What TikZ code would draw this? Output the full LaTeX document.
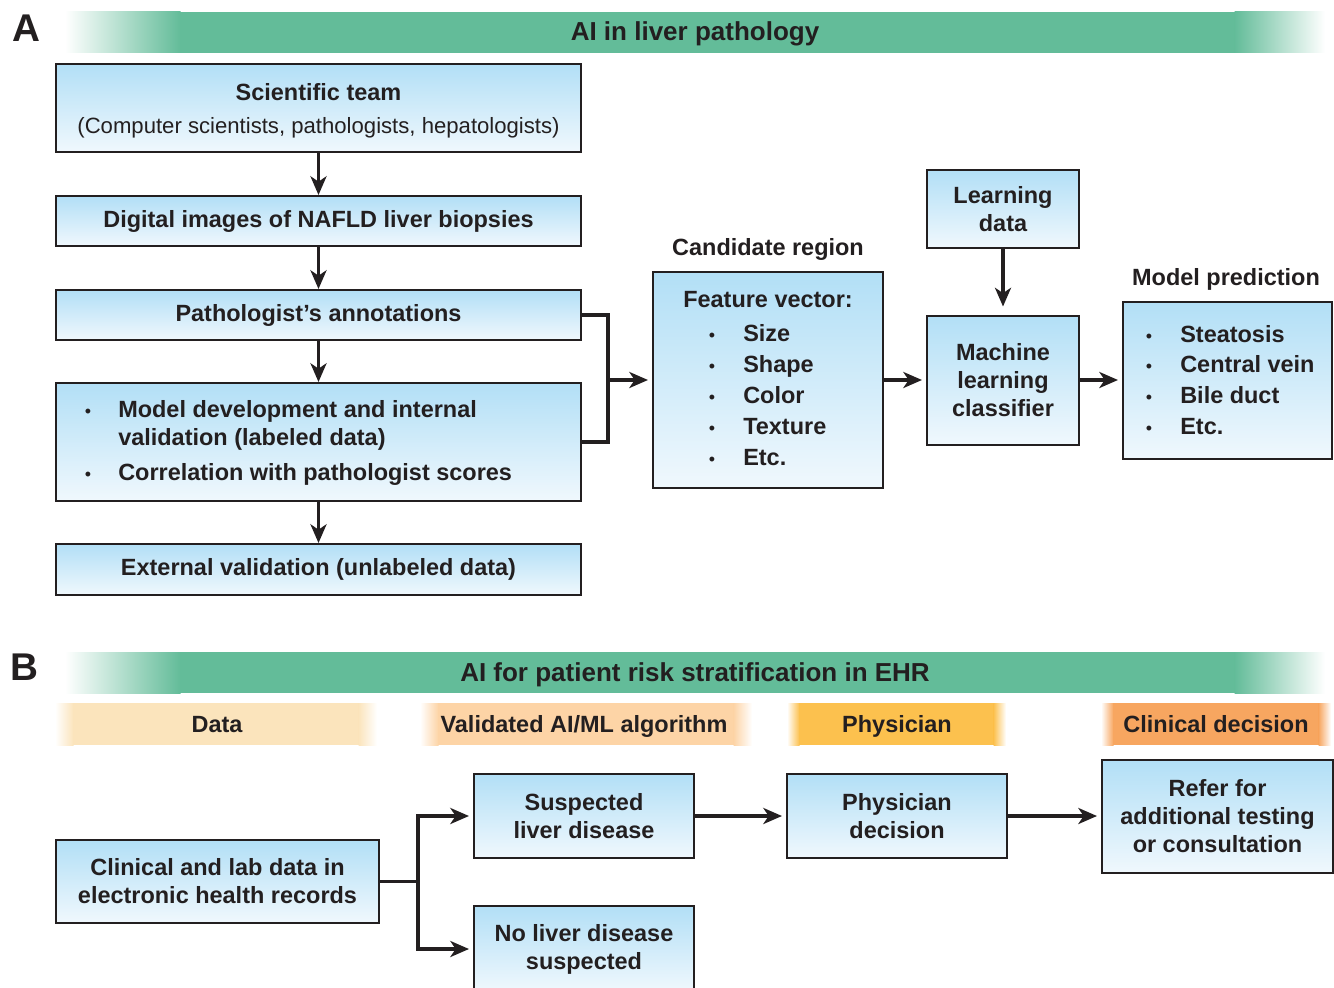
\documentclass[tikz,border=0pt]{standalone}
\usepackage{fontspec}
\setmainfont{Liberation Sans}
\usetikzlibrary{arrows.meta}
\definecolor{ink}{HTML}{231F20}
\definecolor{boxtop}{HTML}{B2DFF6}
\definecolor{boxbot}{HTML}{F0F8FD}
\definecolor{barG}{HTML}{63BC99}
\definecolor{barData}{HTML}{FBE4BC}
\definecolor{barAlg}{HTML}{FDD4A6}
\definecolor{barPhys}{HTML}{FCC14E}
\definecolor{barClin}{HTML}{F7A660}
% #1 colour, #2 x1, #3 x2, #4 y1, #5 y2, #6 left fade, #7 right fade
\newcommand\fadebar[7]{%
 \fill[left color=white,right color=#1] (#2,#4) rectangle (#2+#6+0.5,#5);
 \fill[#1] (#2+#6,#4) rectangle (#3-#7,#5);
 \fill[left color=#1,right color=white] (#3-#7-0.5,#4) rectangle (#3,#5);}
\begin{document}
\begin{tikzpicture}[x=0.75pt,y=-0.75pt,
 box/.style={draw=ink,line width=1.5pt,top color=boxtop,bottom color=boxbot,inner sep=0pt,align=center,text=ink,font=\bfseries\fontsize{17.6}{21}\selectfont},
 wh/.style 2 args={minimum width=#1*0.75pt,minimum height=#2*0.75pt},
 txt/.style={text=ink,font=\bfseries\fontsize{17.6}{21}\selectfont,inner sep=0pt,anchor=base},
 item/.style={txt,anchor=base west},
 bul/.style={text=ink,font=\fontsize{13.5}{15}\selectfont,inner sep=0pt,anchor=base},
 ttl/.style={text=ink,font=\bfseries\fontsize{19.5}{23}\selectfont,inner sep=0pt,anchor=base},
 lbl/.style={text=ink,font=\bfseries\fontsize{29}{32}\selectfont,inner sep=0pt},
 con/.style={draw=ink,line width=2.8pt},
 arr/.style={con,-{Stealth[length=14pt,width=12pt,inset=4pt]}},
 gap/.style={shorten >=3pt}]
\useasboundingbox (0,0) rectangle (1334,988);
% ---------- Panel A ----------
\node[lbl] (labA) at (26,28) {A};
\fadebar{barG}{65}{1325}{12}{53}{115}{90}
\node[ttl] (titA) at (695,41) {AI in liver pathology};

\node[box,wh={525}{88}] (sci) at (318.5,108) {\rule{0pt}{17.2pt}Scientific team\\[4pt]\mdseries\fontsize{16.6}{21}\selectfont (Computer scientists, pathologists, hepatologists)};
\node[box,wh={525}{50}] (dig) at (318.5,221) {Digital images of NAFLD liver biopsies};
\node[box,wh={525}{50}] (ann) at (318.5,315) {Pathologist’s annotations};
\node[box,wh={525}{118}] (mod) at (318.5,442) {};
\node[box,wh={525}{51}] (ext) at (318.5,569.5) {External validation (unlabeled data)};

\node[bul] (mb1) at (88,417) {•};
\node[item] (mi1) at (118,417) {Model development and internal};
\node[item] (mi2) at (118,445) {validation (labeled data)};
\node[bul] (mb2) at (88,480) {•};
\node[item] (mi3) at (118,480) {Correlation with pathologist scores};

\draw[arr] (sci) -- (dig);
\draw[arr] (dig) -- (ann);
\draw[arr] (ann) -- (mod);
\draw[arr] (mod) -- (ext);

\coordinate (brk) at (608,380);
\draw[con] (ann.east) -| (brk) |- (mod.east);

\node[txt] (cand) at (768,255) {Candidate region};
\node[box,wh={230}{216}] (feat) at (768,380) {};
\node[item] (fv) at (683,307) {Feature vector:};
\foreach \y/\t [count=\i] in {333/Size,364/Shape,395/Color,426/Texture,457/Etc.}{
  \node[bul] (fb\i) at (712,\y+8) {•};
  \node[item] (fi\i) at (743,\y+8) {\t};}

\node[box,wh={152}{78}] (ld) at (1003,209) {Learning\\data};
\node[box,wh={152}{129}] (ml) at (1003,380) {Machine\\learning\\classifier};
\node[txt] (mp) at (1226,285) {Model prediction};
\node[box,wh={209}{157}] (pred) at (1227.5,380.5) {};
\foreach \y/\t [count=\i] in {335/Steatosis,365/Central vein,396/Bile duct,427/Etc.}{
  \node[bul] (pb\i) at (1149,\y+7) {•};
  \node[item] (pi\i) at (1180,\y+7) {\t};}

\draw[arr,gap] (brk) -- (feat.west);
\draw[arr,gap] (feat.east) -- (ml.west);
\draw[arr,shorten >=6pt] (ld) -- (ml);
\draw[arr,gap] (ml.east) -- (ml.east -| pred.west);

% ---------- Panel B ----------
\node[lbl] (labB) at (24,667) {B};
\fadebar{barG}{65}{1325}{652}{693}{115}{90}
\node[ttl] (titB) at (695,681) {AI for patient risk stratification in EHR};

\fadebar{barData}{55}{377}{703}{745}{18}{18}
\fadebar{barAlg}{420}{752}{703}{745}{18}{18}
\fadebar{barPhys}{787}{1006}{703}{745}{12}{12}
\fadebar{barClin}{1101}{1331}{703}{745}{12}{12}
\node[txt] (hData) at (217,732) {Data};
\node[txt] (hAlg) at (584,732) {Validated AI/ML algorithm};
\node[txt] (hPhys) at (897,732) {Physician};
\node[txt] (hClin) at (1216,732) {Clinical decision};

\node[box,wh={323}{83}] (clin) at (217.5,881.5) {Clinical and lab data in\\electronic health records};
\node[box,wh={220}{84}] (sus) at (584,816) {Suspected\\liver disease};
\node[box,wh={220}{86}] (nol) at (584,949) {No liver disease\\suspected};
\node[box,wh={220}{84}] (phy) at (897,816) {Physician\\decision};
\node[box,wh={231}{113}] (ref) at (1217.5,816.5) {Refer for\\additional testing\\or consultation};

\coordinate (br) at (418,881.5);
\draw[con] (clin.east) -- (br);
\draw[arr,gap] (br) |- (sus.west);
\draw[arr,gap] (br) |- (nol.west);
\draw[arr,gap] (sus) -- (phy);
\draw[arr,gap] (phy.east) -- (phy.east -| ref.west);
\end{tikzpicture}
\end{document}
